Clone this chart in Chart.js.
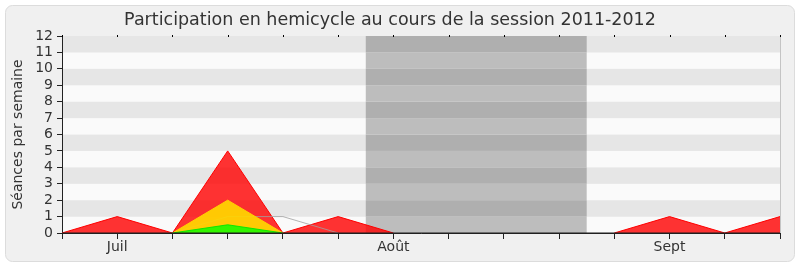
<!DOCTYPE html>
<html>
<head>
<meta charset="utf-8">
<style>
  html, body { margin: 0; padding: 0; background: #ffffff; }
  #wrap { width: 800px; height: 267px; }
</style>
<script src="https://cdn.jsdelivr.net/npm/chart.js@4/dist/chart.umd.min.js"></script>
</head>
<body>
<div id="wrap"><canvas id="c" width="800" height="267"></canvas></div>
<script>
// Weeks of the session, labelled at the first week of each month
const weeks = ['', 'Juil', '', '', '', '', 'Août', '', '', '', '', 'Sept', '', ''];
// Sittings attended per week
const presences = [0, 1, 0, 5, 0, 1, 0, 0, 0, 0, 0, 1, 0, 1];
// Interventions per week
const interventions = [0, 0, 0, 2, 0, 0, 0, 0, 0, 0, 0, 0, 0, 0];
// Questions per week
const questions = [0, 0, 0, 0.5, 0, 0, 0, 0, 0, 0, 0, 0, 0, 0];
// Median attendance of all members
const mediane = [0, 0, 0, 1, 1, 0, 0, 0, 0, 0, 0, 0, 0, 0];
// Parliamentary recess, as a range of week positions
const vacances = [5.5, 9.5];
// Y axis bounds
const yMin = 0, yMax = 12;

const FONT = 'DejaVu Sans';
const TEXT = '#333333';

// Hide outline segments lying flat on the zero line
const hideFlat = (color) => (c) =>
  (c.p0.parsed.y === 0 && c.p1.parsed.y === 0) ? 'rgba(0,0,0,0)' : color;

const backdrop = {
  id: 'backdrop',
  beforeDraw(chart) {
    const { ctx, chartArea: a, scales: { x, y } } = chart;
    ctx.save();
    // Page and rounded frame
    ctx.fillStyle = '#ffffff';
    ctx.fillRect(0, 0, chart.width, chart.height);
    const fx = 5.5, fy = 5.5, fw = 789, fh = 256, r = 7;
    ctx.beginPath();
    ctx.moveTo(fx + r, fy);
    ctx.arcTo(fx + fw, fy, fx + fw, fy + fh, r);
    ctx.arcTo(fx + fw, fy + fh, fx, fy + fh, r);
    ctx.arcTo(fx, fy + fh, fx, fy, r);
    ctx.arcTo(fx, fy, fx + fw, fy, r);
    ctx.closePath();
    ctx.fillStyle = '#f0f0f0';
    ctx.fill();
    ctx.strokeStyle = '#dcdcdc';
    ctx.lineWidth = 1;
    ctx.stroke();

    // Alternating horizontal bands
    for (let v = yMin; v < yMax; v++) {
      const top = y.getPixelForValue(v + 1);
      const bot = y.getPixelForValue(v);
      ctx.fillStyle = (v % 2 === 0) ? '#fafafa' : '#e6e6e6';
      ctx.fillRect(a.left, top, a.right - a.left, bot - top);
    }
    // Recess shading
    const vx0 = x.getPixelForValue(vacances[0]);
    const vx1 = x.getPixelForValue(vacances[1]);
    for (let v = yMin; v < yMax; v++) {
      const top = y.getPixelForValue(v + 1);
      const bot = y.getPixelForValue(v);
      ctx.fillStyle = (v % 2 === 0) ? '#bdbdbd' : '#afafaf';
      ctx.fillRect(vx0, top, vx1 - vx0, bot - top);
    }
    // Plot frame, right side
    ctx.strokeStyle = '#c4c4c4';
    ctx.beginPath();
    ctx.moveTo(a.right + 0.5, a.top);
    ctx.lineTo(a.right + 0.5, a.bottom);
    ctx.stroke();
    ctx.restore();
  },
  afterDraw(chart) {
    const { ctx, chartArea: a, scales: { x } } = chart;
    ctx.save();
    // Base line over the series
    ctx.strokeStyle = '#1e1e1e';
    ctx.lineWidth = 1;
    ctx.beginPath();
    ctx.moveTo(a.left, a.bottom);
    ctx.lineTo(a.right, a.bottom);
    ctx.stroke();
    // Small marks along the top edge
    ctx.fillStyle = '#000000';
    for (let i = 0; i < weeks.length; i++) {
      const px = Math.round(x.getPixelForValue(i));
      ctx.fillRect(px, a.top - 1, 1, 2);
    }
    ctx.restore();
  }
};

new Chart(document.getElementById('c'), {
  type: 'line',
  data: {
    labels: weeks,
    datasets: [
      {
        label: 'Questions',
        data: questions,
        borderColor: 'rgba(0,230,0,0.9)',
        segment: { borderColor: hideFlat('rgba(0,230,0,0.9)') },
        backgroundColor: 'rgba(0,255,0,0.8)',
        borderWidth: 1,
        fill: 'origin'
      },
      {
        label: 'Interventions',
        data: interventions,
        borderColor: 'rgba(255,210,0,1)',
        segment: { borderColor: hideFlat('rgba(255,210,0,1)') },
        backgroundColor: 'rgba(255,215,0,0.92)',
        borderWidth: 1,
        fill: 'origin'
      },
      {
        label: 'Médiane',
        data: mediane,
        borderColor: 'rgba(160,160,160,0.8)',
        segment: { borderColor: hideFlat('rgba(160,160,160,0.8)') },
        backgroundColor: 'transparent',
        borderWidth: 1,
        fill: false
      },
      {
        label: 'Présences',
        data: presences,
        borderColor: '#ff0000',
        segment: { borderColor: hideFlat('#ff0000') },
        backgroundColor: 'rgba(255,0,0,0.8)',
        borderWidth: 1,
        fill: 'origin'
      }
    ]
  },
  options: {
    responsive: false,
    animation: false,
    devicePixelRatio: 1,
    layout: { padding: { left: 0, right: 20, top: 0, bottom: 0 } },
    elements: { point: { radius: 0, hoverRadius: 0 }, line: { tension: 0 } },
    plugins: {
      legend: { display: false },
      tooltip: { enabled: false },
      title: {
        display: true,
        text: 'Participation en hemicycle au cours de la session 2011-2012',
        color: TEXT,
        font: { family: FONT, size: 17.5, weight: 'normal', lineHeight: 1.2 },
        padding: { top: 10, bottom: 5 }
      }
    },
    scales: {
      x: {
        type: 'category',
        offset: false,
        grid: { display: true, drawOnChartArea: false, drawTicks: true, tickLength: 6, tickColor: '#222222' },
        border: { display: true, color: '#222222', width: 1 },
        ticks: {
          autoSkip: false, maxRotation: 0, minRotation: 0, padding: 0,
          color: TEXT, font: { family: FONT, size: 14 }
        },
        afterFit(scale) { scale.height = 34; }
      },
      y: {
        min: yMin,
        max: yMax,
        grid: { display: true, drawOnChartArea: false, drawTicks: true, tickLength: 5, tickColor: '#222222' },
        border: { display: true, color: '#222222', width: 1 },
        ticks: {
          stepSize: 1, autoSkip: false, padding: 4,
          color: TEXT, font: { family: FONT, size: 14 }
        },
        title: {
          display: true,
          text: 'Séances par semaine',
          color: TEXT,
          font: { family: FONT, size: 14 },
          padding: { top: 10, bottom: 0 }
        },
        afterFit(scale) { scale.width = 62; }
      }
    }
  },
  plugins: [backdrop]
});
</script>
</body>
</html>
